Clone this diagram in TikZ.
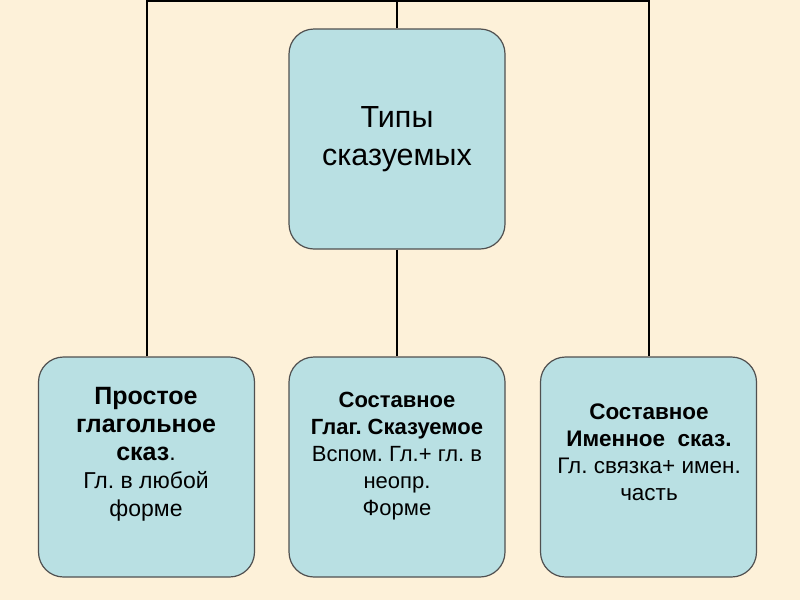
\documentclass[tikz,border=0pt]{standalone}
\usepackage{fontspec}
\setmainfont{Liberation Sans}
\definecolor{bg}{HTML}{FDF1D9}
\definecolor{boxfill}{HTML}{B9E0E3}
\definecolor{boxline}{HTML}{505050}
\frenchspacing
\begin{document}
\begin{tikzpicture}[x=1pt,y=-1pt,
  box/.style={draw=boxline,fill=boxfill,line width=1.2pt,rounded corners=25pt,
    minimum width=216pt,minimum height=220pt,inner sep=0pt},
  txt/.style={align=center,inner sep=0pt,text=black},
  conn/.style={draw=black,line width=2pt}]
\fill[bg] (0,0) rectangle (800,600);
\useasboundingbox (0,0) rectangle (800,600);
\coordinate (tc) at (397,1);
\node[box] (top) at (397,139) {};
\node[box] (b1) at (146.5,467) {};
\node[box] (b2) at (397,467) {};
\node[box] (b3) at (648.5,467) {};
\draw[conn] (top.north) -- (tc);
\draw[conn] (b1.north) |- (tc) -| (b3.north);
\draw[conn] (top.south) -- (b2.north);
\node[txt,font=\fontsize{30.5}{38}\selectfont] (ttop) at (top.center) {Типы\\сказуемых};
\node[txt,anchor=north,font=\fontsize{23}{28}\selectfont] (t1) at (146,387)
  {{\bfseries\fontsize{25}{28}\selectfont Простое}\\{\bfseries\fontsize{25}{28}\selectfont глагольное}\\{\bfseries\fontsize{25}{28}\selectfont сказ}.\\Гл. в любой\\форме};
\node[txt,anchor=north,font=\fontsize{22}{27}\selectfont] (t2) at (397,392)
  {{\bfseries Составное}\\{\bfseries Глаг. Сказуемое}\\Вспом. Гл.+ гл. в\\неопр.\\Форме};
\node[txt,anchor=north,font=\fontsize{22.5}{27}\selectfont] (t3) at (649,404)
  {{\bfseries Составное}\\{\bfseries Именное\ \ сказ.}\\Гл. связка+ имен.\\часть};
\end{tikzpicture}
\end{document}
